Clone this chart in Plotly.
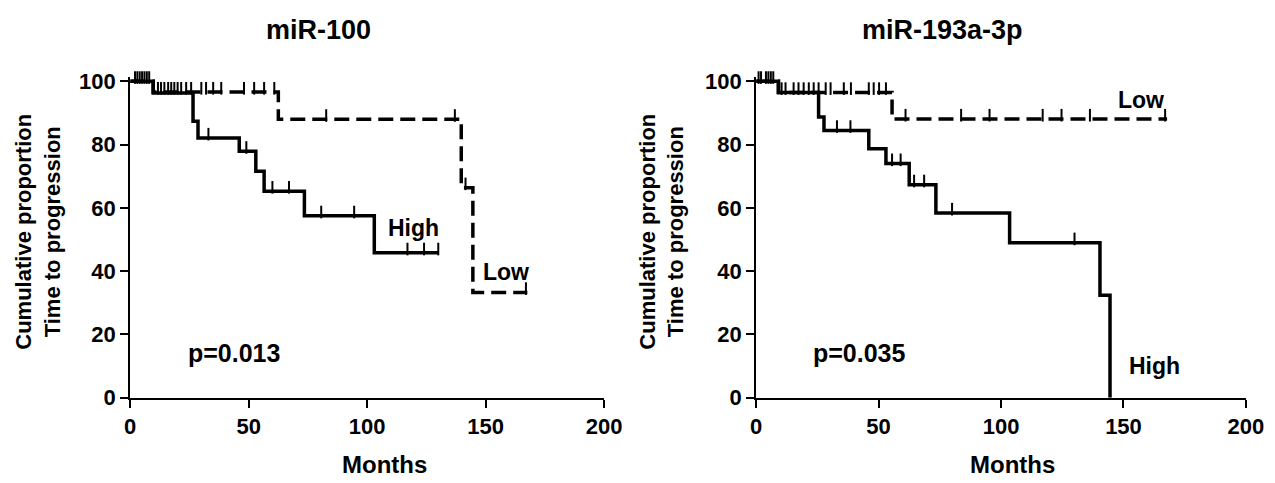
import plotly.graph_objects as go

# ---- data (months, percent) ----
# miR-100
l_high_t = [0, 9.7, 26.5, 28.6, 46, 53, 56.5, 73.5, 103, 130]
l_high_s = [100, 96.3, 87.4, 82.1, 77.9, 71.6, 65.3, 57.5, 45.8, 45.8]
l_high_cens = [3, 5, 7, 33, 49, 60, 67, 80.6, 94.5, 117, 124, 130]
l_low_t = [0, 9.7, 62.5, 139.7, 144.6, 167.6]
l_low_s = [100, 96.6, 88.0, 66.4, 33.3, 33.3]
l_low_cens = [2, 4, 6, 8, 11.7, 13, 14.4, 16, 17.3, 18.6, 20, 21.5, 23.6, 25.7,
              30, 32, 35, 38.4, 48, 52.3, 56.5, 60.8, 82.7, 137, 141.5, 167]
# miR-193a-3p
r_high_t = [0, 9.1, 25.5, 27.7, 46, 53, 62.5, 73.4, 103.5, 140.4, 144.5]
r_high_s = [100, 96.5, 88.7, 84.5, 78.7, 74.0, 67.3, 58.4, 49.0, 32.4, 0]
r_high_cens = [2, 5, 7, 33, 38.5, 55.5, 59, 64.5, 68.6, 80, 130]
r_low_t = [0, 9.1, 55.5, 167.8]
r_low_s = [100, 96.5, 88.1, 88.1]
r_low_cens = [1, 4, 6, 10.4, 12, 15.3, 17.3, 19.4, 21.5, 23.5, 25.5, 28.4, 30.4,
              35.8, 38.7, 46, 48, 50.2, 53, 61, 83.7, 95.3, 117, 124.7, 136.3, 167]

titles = ["miR-100", "miR-193a-3p"]
p_values = ["p=0.013", "p=0.035"]
x_ticks = [0, 50, 100, 150, 200]
y_ticks = [0, 20, 40, 60, 80, 100]

W, H = 1275, 483
FONT = "Liberation Sans, Arial, sans-serif"
# screen = A + B * figure-pixel (measured for this page)
AX, BX, AY, BY = 10.0, 0.9876, 12.0, 0.968


def fx(px):                  # target screen pixel -> paper fraction
    return ((px - AX) / BX) / W


def fy(py):
    return 1 - ((py - AY) / BY) / H


def step_at(ts, ss, t):
    v = ss[0]
    for ti, si in zip(ts, ss):
        if ti <= t:
            v = si
    return v


fig = go.Figure()

panels = [
    ("x", "y", l_high_t, l_high_s, l_high_cens, l_low_t, l_low_s, l_low_cens),
    ("x2", "y2", r_high_t, r_high_s, r_high_cens, r_low_t, r_low_s, r_low_cens),
]
for xa, ya, ht, hs, hc, lt, ls, lc in panels:
    fig.add_trace(go.Scatter(x=lt, y=ls, mode="lines", line_shape="hv",
                             line=dict(color="black", width=3.5, dash="15px,7px"),
                             xaxis=xa, yaxis=ya, showlegend=False))
    fig.add_trace(go.Scatter(x=ht, y=hs, mode="lines", line_shape="hv",
                             line=dict(color="black", width=3.5),
                             xaxis=xa, yaxis=ya, showlegend=False))
    for ts, ss, cs in ((ht, hs, hc), (lt, ls, lc)):
        fig.add_trace(go.Scatter(
            x=cs, y=[step_at(ts, ss, c) + 1.2 for c in cs], mode="markers",
            marker=dict(symbol="line-ns", size=9, line=dict(color="black", width=2)),
            xaxis=xa, yaxis=ya, showlegend=False, cliponaxis=False))

YMAX = 101.5
y0_px, y100_px = 398.5, 79
ytop_px = y0_px - (y0_px - y100_px) * YMAX / 100
ydom = [fy(y0_px), fy(ytop_px)]
axis_common = dict(showline=True, linecolor="black", linewidth=2, ticks="outside",
                   ticklen=8, tickwidth=2, tickcolor="black", showgrid=False,
                   zeroline=False,
                   tickfont=dict(family=FONT, size=22, color="black", weight="bold"))
fig.update_layout(
    width=W, height=H, margin=dict(l=0, r=0, t=0, b=0),
    paper_bgcolor="white", plot_bgcolor="white", showlegend=False,
    xaxis=dict(domain=[fx(127), fx(604)], range=[0, 200], tickvals=x_ticks,
               anchor="y", **axis_common),
    yaxis=dict(domain=ydom, range=[0, YMAX], tickvals=y_ticks, anchor="x",
               **axis_common),
    xaxis2=dict(domain=[fx(757), fx(1250)], range=[0, 200], tickvals=x_ticks,
                anchor="y2", **axis_common),
    yaxis2=dict(domain=ydom, range=[0, YMAX], tickvals=y_ticks, anchor="x2",
                **axis_common),
)


def ann_paper(text, px, py, size, angle=0):
    fig.add_annotation(text=text, x=fx(px), y=fy(py), xref="paper", yref="paper",
                       xanchor="center", yanchor="middle", showarrow=False,
                       textangle=angle,
                       font=dict(family=FONT, size=size, color="black", weight="bold"))


def ann_data(text, x, y, xa, ya, size):
    fig.add_annotation(text=text, x=x, y=y, xref=xa, yref=ya,
                       xanchor="center", yanchor="middle", showarrow=False,
                       font=dict(family=FONT, size=size, color="black", weight="bold"))


ann_paper(titles[0], 316, 27, 27)
ann_paper(titles[1], 945, 27, 27)
for off in (0, 628):
    ann_paper("Cumulative proportion<br>Time to progression", 34 + off, 231, 22, -90)
ann_paper("Months", 383, 466, 24)
ann_paper("Months", 1015, 466, 24)

ann_data(p_values[0], 44, 14.3, "x", "y", 25)
ann_data("High", 119.6, 53.7, "x", "y", 23)
ann_data("Low", 158.4, 39.6, "x", "y", 23)
ann_data(p_values[1], 42, 14, "x2", "y2", 25)
ann_data("Low", 157, 94, "x2", "y2", 23)
ann_data("High", 162.7, 10, "x2", "y2", 23)

fig.write_html("out.html")
